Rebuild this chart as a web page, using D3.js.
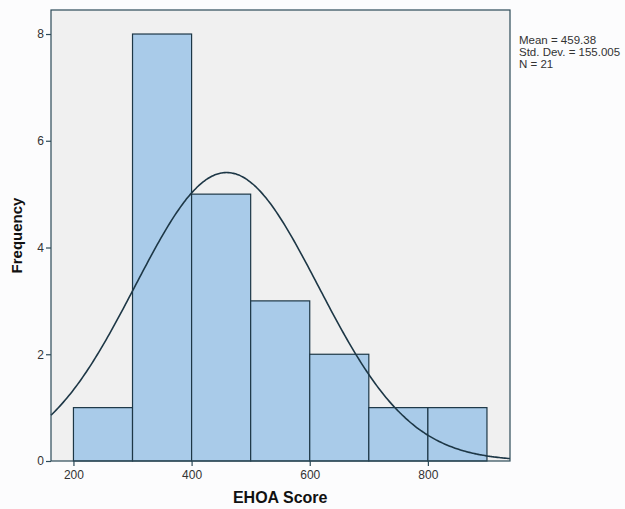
<!DOCTYPE html>
<html>
<head>
<meta charset="utf-8">
<script src="https://cdn.jsdelivr.net/npm/d3@7.9.0/dist/d3.min.js"></script>
<style>
  body { margin: 0; background: #fcfcfd; }
  text { font-family: "Liberation Sans", Arial, sans-serif; }
</style>
</head>
<body>
<div id="chart"></div>
<script>
// histogram bins (EHOA Score) and counts
const binStarts = [200, 300, 400, 500, 600, 700, 800];
const binWidth = 100;
const counts = [1, 8, 5, 3, 2, 1, 1];
const xTicks = [200, 400, 600, 800];
const yTicks = [0, 2, 4, 6, 8];
// summary statistics shown at right
const stats = { mean: 459.38, sd: 155.005, n: 21 };
const statLabels = ['Mean = 459.38', 'Std. Dev. = 155.005', 'N = 21'];

const width = 625;
const height = 509;
const margin = { top: 10, right: 115, bottom: 48, left: 51 };
const innerWidth = width - margin.left - margin.right;
const innerHeight = height - margin.top - margin.bottom;

const svg = d3.select('#chart')
  .append('svg')
  .attr('width', width)
  .attr('height', height);

const g = svg.append('g')
  .attr('transform', `translate(${margin.left}, ${margin.top})`);

const x = d3.scaleLinear()
  .domain([162, 939])
  .range([0, innerWidth]);

const y = d3.scaleLinear()
  .domain([0, 8.45])
  .range([innerHeight, 0]);

// plot background
g.append('rect')
  .attr('width', innerWidth)
  .attr('height', innerHeight)
  .attr('fill', '#f0f0f0');

// bars
g.selectAll('.bar')
  .data(binStarts.map((b, i) => ({ x0: b, x1: b + binWidth, count: counts[i] })))
  .join('rect')
  .attr('class', 'bar')
  .attr('x', d => x(d.x0))
  .attr('y', d => y(d.count))
  .attr('width', d => x(d.x1) - x(d.x0))
  .attr('height', d => y(0) - y(d.count))
  .attr('fill', '#a9cbe9')
  .attr('stroke', '#1d3746')
  .attr('stroke-width', 1.2);

// fitted normal curve from mean / sd / n
const scale = stats.n * binWidth / (stats.sd * Math.sqrt(2 * Math.PI));
const curveX = d3.range(x.domain()[0], x.domain()[1] + 1, 3);
const line = d3.line()
  .x(v => x(v))
  .y(v => y(scale * Math.exp(-0.5 * ((v - stats.mean) / stats.sd) ** 2)))
  .curve(d3.curveBasis);

g.append('path')
  .attr('d', line(curveX))
  .attr('fill', 'none')
  .attr('stroke', '#1d3746')
  .attr('stroke-width', 1.6);

// frame
g.append('rect')
  .attr('width', innerWidth)
  .attr('height', innerHeight)
  .attr('fill', 'none')
  .attr('stroke', '#2c4a58')
  .attr('stroke-width', 1.2);

// x axis
const xAxis = g.append('g')
  .attr('transform', `translate(0, ${innerHeight})`)
  .call(d3.axisBottom(x).tickValues(xTicks).tickSize(5).tickSizeOuter(0).tickPadding(4));

// y axis
const yAxis = g.append('g')
  .call(d3.axisLeft(y).tickValues(yTicks).tickSize(5).tickSizeOuter(0).tickPadding(2));

[xAxis, yAxis].forEach(a => {
  a.select('.domain').remove();
  a.selectAll('.tick line').attr('stroke', '#2c4a58').attr('stroke-width', 1.2);
  a.selectAll('.tick text')
    .attr('fill', '#333')
    .style('font-size', '12px')
    .style('font-family', '"Liberation Sans", Arial, sans-serif');
});

// axis titles
svg.append('text')
  .attr('x', margin.left + x(550))
  .attr('y', 503)
  .attr('text-anchor', 'middle')
  .attr('font-weight', 'bold')
  .attr('font-size', 16)
  .attr('fill', '#111')
  .text('EHOA Score');

svg.append('text')
  .attr('transform', `translate(22, ${margin.top + innerHeight / 2}) rotate(-90)`)
  .attr('text-anchor', 'middle')
  .attr('font-weight', 'bold')
  .attr('font-size', 15)
  .attr('fill', '#111')
  .text('Frequency');

// stats text
svg.append('g')
  .selectAll('text')
  .data(statLabels)
  .join('text')
  .attr('x', 519)
  .attr('y', (d, i) => 44 + i * 12)
  .attr('font-size', 11.5)
  .attr('fill', '#333')
  .text(d => d);
</script>
</body>
</html>
